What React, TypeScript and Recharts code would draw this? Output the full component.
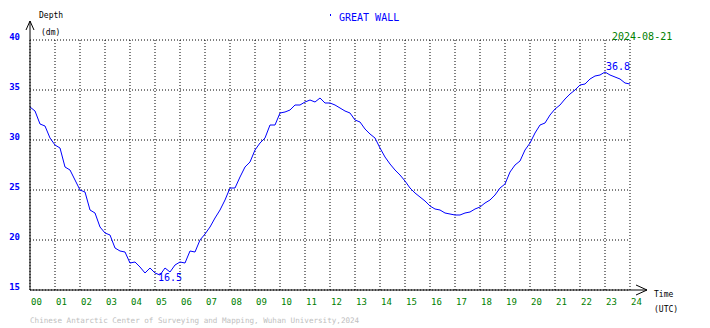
import { LineChart, Line, XAxis, YAxis, CartesianGrid, ReferenceDot } from 'recharts';

// depth readings every 0.2 h (12 min), 00:00 .. 24:00 UTC
const depth = [
  33.3, 32.9, 31.6, 31.4, 30.2, 29.5, 29.2, 27.3, 27.0, 26.0,
  25.0, 24.8, 23.0, 22.7, 21.3, 20.7, 20.5, 19.2, 18.9, 18.8,
  17.7, 17.8, 17.3, 16.7, 17.2, 16.7, 16.5, 17.2, 16.8, 17.5,
  17.8, 17.7, 18.9, 18.8, 20.0, 20.6, 21.3, 22.2, 23.0, 24.0,
  25.2, 25.2, 26.3, 27.3, 27.8, 29.0, 29.7, 30.2, 31.5, 31.5,
  32.7, 32.8, 33.0, 33.5, 33.5, 33.8, 34.0, 33.8, 34.2, 33.7,
  33.7, 33.5, 33.2, 32.9, 32.7, 32.0, 31.8, 31.1, 30.6, 30.2,
  29.2, 28.3, 27.6, 27.0, 26.5, 25.9, 25.2, 24.7, 24.3, 23.9,
  23.4, 23.1, 23.0, 22.7, 22.6, 22.5, 22.5, 22.7, 22.8, 23.1,
  23.3, 23.7, 24.0, 24.5, 25.2, 25.6, 26.8, 27.5, 27.9, 29.0,
  29.7, 30.7, 31.5, 31.7, 32.5, 33.1, 33.5, 34.1, 34.6, 35.0,
  35.5, 35.6, 36.1, 36.4, 36.5, 36.8, 36.5, 36.3, 36.1, 35.7,
  35.6,
];

const hourTicks = [0, 1, 2, 3, 4, 5, 6, 7, 8, 9, 10, 11, 12, 13, 14, 15, 16, 17, 18, 19, 20, 21, 22, 23, 24];
const depthTicks = [15, 20, 25, 30, 35, 40];

const minPoint = { t: 5.2, v: 16.5 };
const maxPoint = { t: 23.0, v: 36.8 };

const data = depth.map((v, i) => ({ t: i / 5, v }));

const W = 710;
const H = 328;
const LEFT = 30;
const TOP = 40;
const RIGHT = 630;
const BOTTOM = 290;

const MONO = '"DejaVu Sans Mono", "Liberation Mono", monospace';
const BLUE = '#0000ff';
const GREEN = '#008000';

const XTick = (props: any) => (
  <text x={props.x + 1} y={BOTTOM + 15} fill={GREEN} fontFamily={MONO} fontSize={9} textAnchor="start">
    {String(props.payload.value).padStart(2, '0')}
  </text>
);

const YTick = (props: any) => (
  <text x={20} y={props.y} fill={BLUE} fontFamily={MONO} fontSize={9} fontWeight="bold" textAnchor="end">
    {props.payload.value}
  </text>
);

const peakLabel = (dx: number, dy: number, text: string) => (props: any) => (
  <text x={props.viewBox.x + dx} y={props.viewBox.y + dy} fill={BLUE} fontFamily={MONO} fontSize={10}>
    {text}
  </text>
);

export default function App() {
  return (
    <div style={{ position: 'absolute', left: 0, top: 0, width: W, height: H, background: '#fff' }}>
      <LineChart width={W} height={H} data={data} margin={{ top: TOP, right: W - RIGHT, bottom: 8, left: 0 }}>
        <CartesianGrid stroke="#000" strokeDasharray="1 2" ticks={hourTicks} />
        <XAxis
          type="number"
          dataKey="t"
          domain={[0, 24]}
          ticks={hourTicks}
          interval={0}
          height={H - 8 - BOTTOM}
          axisLine={{ stroke: '#000' }}
          tickLine={false}
          tick={XTick}
        />
        <YAxis
          domain={[15, 40]}
          ticks={depthTicks}
          width={LEFT}
          interval={0}
          axisLine={{ stroke: '#000' }}
          tickLine={false}
          tick={YTick}
        />
        <Line type="linear" dataKey="v" stroke={BLUE} strokeWidth={1} dot={false} isAnimationActive={false} />
        <ReferenceDot
          x={minPoint.t}
          y={minPoint.v}
          r={1}
          fill="none"
          stroke="none"
          label={{ content: peakLabel(-1, 7, String(minPoint.v)) }}
        />
        <ReferenceDot
          x={maxPoint.t}
          y={maxPoint.v}
          r={1}
          fill="none"
          stroke="none"
          label={{ content: peakLabel(2, -1, String(maxPoint.v)) }}
        />
        <g>
          {/* axis extensions with arrowheads */}
          <line x1={LEFT} y1={TOP} x2={LEFT} y2={21} stroke="#000" />
          <polyline points={`${LEFT - 4},30 ${LEFT},21 ${LEFT + 4},30`} fill="none" stroke="#000" />
          <line x1={RIGHT} y1={BOTTOM} x2={647} y2={BOTTOM} stroke="#000" />
          <polyline points={`636,285 647,${BOTTOM} 636,295`} fill="none" stroke="#000" />
          <text x={39} y={18} fontFamily={MONO} fontSize={8} fill="#000">Depth</text>
          <text x={41} y={35} fontFamily={MONO} fontSize={8} fill="#000">(dm)</text>
          <text x={654} y={297} fontFamily={MONO} fontSize={8} fill="#000">Time</text>
          <text x={654} y={312} fontFamily={MONO} fontSize={8} fill="#000">(UTC)</text>
          <rect x={330} y={14} width={1} height={2} fill={BLUE} />
          <text x={339} y={21} fontFamily={MONO} fontSize={10} fill={BLUE}>GREAT WALL</text>
          <text x={612} y={40} fontFamily={MONO} fontSize={10} fill={GREEN}>2024-08-21</text>
          <text x={30} y={323} fontFamily={MONO} fontSize={7.6} fill="#c0c0c0">
            Chinese Antarctic Center of Surveying and Mapping, Wuhan University,2024
          </text>
        </g>
      </LineChart>
    </div>
  );
}
